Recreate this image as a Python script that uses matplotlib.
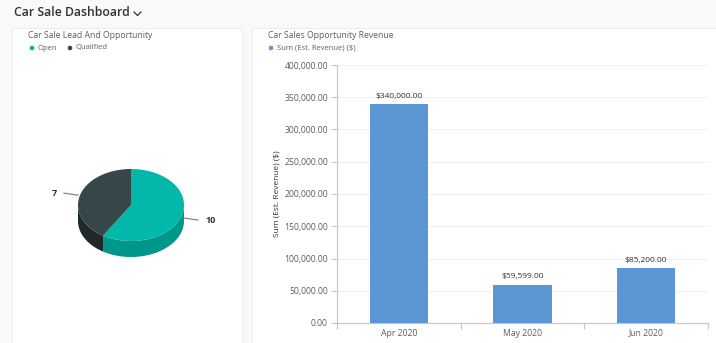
import numpy as np
import matplotlib as mpl
from matplotlib import pyplot as plt
from matplotlib.patches import Rectangle, Polygon, Circle
from matplotlib.lines import Line2D

mpl.rcParams['font.family'] = ['Open Sans', 'DejaVu Sans']

W, H = 716, 343

# pie data
pie_labels = ['Open', 'Qualified']
pie_values = [10, 7]
pie_colors = ['#01b8aa', '#374649']
pie_side_colors = ['#00978b', '#1f292b']

# bar data
months = ['Apr 2020', 'May 2020', 'Jun 2020']
revenue = [340000, 59599, 85200]
bar_color = '#5b97d5'

text_dark = '#323130'
text_grey = '#605e5c'


def draw_pie3d(ax, values, colors, side_colors, cx, cy, rx, ry, depth):
    total = float(sum(values))
    starts = np.cumsum([0] + list(values))[:-1] / total * 360
    spans = np.array(values) / total * 360

    def pt(a, dy=0):
        a = np.radians(a)
        return cx + rx * np.sin(a), cy - ry * np.cos(a) + dy

    # side walls (front half: 90..270 degrees clockwise from top)
    for s, sp, sc in zip(starts, spans, side_colors):
        lo, hi = max(s, 90), min(s + sp, 270)
        if hi <= lo:
            continue
        a = np.linspace(lo, hi, 60)
        x, y = pt(a)
        xb, yb = pt(a[::-1], depth)
        ax.add_patch(Polygon(np.column_stack([np.r_[x, xb], np.r_[y, yb]]),
                             closed=True, facecolor=sc, edgecolor='none', zorder=2))
    # top faces
    for s, sp, c in zip(starts, spans, colors):
        a = np.linspace(s, s + sp, 120)
        x, y = pt(a)
        ax.add_patch(Polygon(np.column_stack([np.r_[cx, x], np.r_[cy, y]]),
                             closed=True, facecolor=c, edgecolor='none', zorder=3))
    # labels with leader lines
    for s, sp, v in zip(starts, spans, values):
        mid = s + sp / 2
        x0, y0 = pt(mid)
        front = -np.cos(np.radians(mid)) > 0
        if front:
            y0 += depth * 0.2
        sign = 1 if np.sin(np.radians(mid)) > 0 else -1
        x1, y1 = x0 + sign * 16, y0 + 2 * sign
        ax.plot([x0 + sign * 2, x1], [y0, y1], color='#8a8886', lw=0.9, zorder=4)
        ax.text(x1 + sign * 7, y1 + 0.5, str(v), ha='left' if sign > 0 else 'right',
                va='center', fontsize=6.5, fontweight='bold', color=text_dark)


fig = plt.figure(figsize=(W / 100, H / 100), dpi=100)
fig.patch.set_facecolor('#faf9f8')

# background axes in pixel coordinates
bg = fig.add_axes([0, 0, 1, 1])
bg.set_xlim(0, W)
bg.set_ylim(H, 0)
bg.axis('off')

bg.add_patch(Rectangle((12, 28), 230, 330, facecolor='white', edgecolor='#edebe9', lw=0.6))
bg.add_patch(Rectangle((252, 28), 470, 330, facecolor='white', edgecolor='#edebe9', lw=0.6))

bg.text(14, 13, 'Car Sale Dashboard', fontsize=8.8, fontweight='semibold',
        color=text_dark, va='center', ha='left')
bg.add_line(Line2D([134, 137.5, 141], [12, 15.5, 12], color=text_dark, lw=0.9))

bg.text(28, 35, 'Car Sale Lead And Opportunity', fontsize=6.2, color=text_grey,
        va='center', ha='left')
lx = 32
for lab, col in zip(pie_labels, pie_colors):
    bg.add_patch(Circle((lx, 48), 2.3, facecolor=col, edgecolor='none'))
    t = bg.text(lx + 6, 48, lab, fontsize=5.5, color=text_grey, va='center', ha='left')
    lx += 38

bg.text(268, 35, 'Car Sales Opportunity Revenue', fontsize=6.2, color=text_grey,
        va='center', ha='left')
bg.add_patch(Circle((271, 48), 2.3, facecolor=bar_color, edgecolor='none'))
bg.text(277, 48, 'Sum (Est. Revenue) ($)', fontsize=5.5, color=text_grey,
        va='center', ha='left')

draw_pie3d(bg, pie_values, pie_colors, pie_side_colors, 131, 205, 53, 36, 16)

# bar chart
ax = fig.add_axes([337 / W, 1 - 323 / H, (708 - 337) / W, (323 - 65) / H])
x = np.arange(len(months))
bars = ax.bar(x, revenue, width=0.47, color=bar_color, zorder=3)
ax.set_xlim(-0.5, len(months) - 0.5)
ax.set_ylim(0, 400000)
ax.set_yticks(np.arange(0, 400001, 50000))
ax.set_yticklabels(['{:,.2f}'.format(v) for v in np.arange(0, 400001, 50000)])
ax.set_xticks(np.arange(len(months) + 1) - 0.5)
ax.set_xticklabels([])
ax.set_xticks(x, minor=True)
ax.set_xticklabels(months, minor=True)
ax.tick_params(axis='x', which='major', length=4.5, color='#c8c6c4', width=0.8)
ax.tick_params(axis='x', which='minor', length=0, pad=4, labelsize=6.2, labelcolor=text_grey)
ax.tick_params(axis='y', length=4.5, color='#c8c6c4', width=0.8, labelsize=6.2,
               labelcolor=text_grey, pad=2)
ax.grid(axis='y', color='#f0efee', lw=0.7, zorder=0)
for side in ['top', 'right']:
    ax.spines[side].set_visible(False)
for side in ['left', 'bottom']:
    ax.spines[side].set_color('#c8c6c4')
    ax.spines[side].set_linewidth(0.8)
ax.spines['left'].set_bounds(-8000, 400000)
ax.set_ylabel('Sum (Est. Revenue) ($)', fontsize=6, color=text_dark, labelpad=3)
ax.set_facecolor('none')
for b, v in zip(bars, revenue):
    ax.annotate('${:,.2f}'.format(v), (b.get_x() + b.get_width() / 2, v),
                xytext=(0, 3), textcoords='offset points', ha='center', va='bottom',
                fontsize=6, color=text_dark)
ax.spines['left'].set_clip_on(False)

fig.savefig('out.png', dpi=100, facecolor=fig.get_facecolor())
